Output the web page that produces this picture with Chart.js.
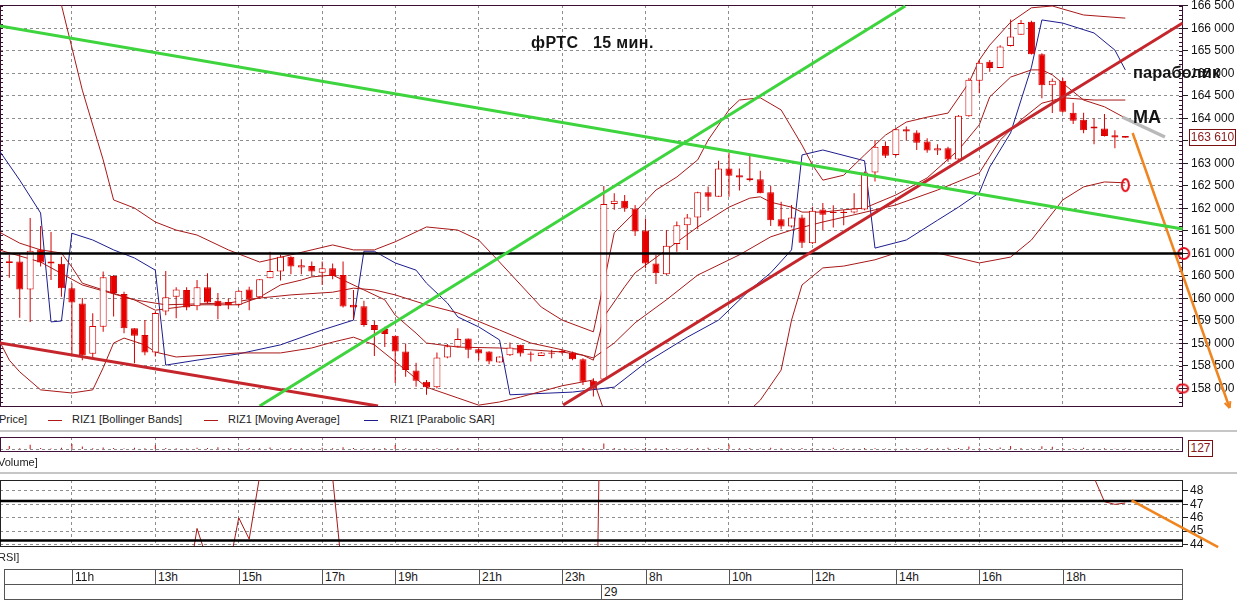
<!DOCTYPE html>
<html lang="ru">
<head>
<meta charset="utf-8">
<title>фРТС 15 мин.</title>
<script src="https://cdn.jsdelivr.net/npm/chart.js@4.4.0/dist/chart.umd.min.js"></script>
<style>
  html, body { margin: 0; padding: 0; background: #fff; }
  #board { position: relative; width: 1237px; height: 603px; overflow: hidden; font-family: "Liberation Sans", Arial, sans-serif; color: #1a1a1a; }
  #board canvas { position: absolute; left: 0; }
  .lbl { position: absolute; white-space: pre; font-size: 11px; line-height: 13px; color: #222; }
  .dash { position: absolute; height: 1px; width: 14px; }
  .note { position: absolute; white-space: pre; font-weight: bold; color: #141414; }
  .sep { position: absolute; left: 0; width: 1237px; height: 2px; background: #c6c6c6; }
  .valbox { position: absolute; border: 1px solid #7a1010; color: #8a1a1a; background: #fff; font-size: 12px; line-height: 14px; text-align: center; }
  #timeAxis { position: absolute; left: 4px; top: 569px; width: 1179px; height: 31px; border: 1px solid #555; box-sizing: border-box; }
  .tcell { position: absolute; border-left: 1px solid #555; font-size: 12px; line-height: 15px; padding-left: 2px; height: 15px; box-sizing: border-box; }
</style>
</head>
<body>
<div id="board">
  <canvas id="priceChart" width="1237" height="410" style="top:0"></canvas>
  <canvas id="volumeChart" width="1237" height="25" style="top:432px"></canvas>
  <canvas id="rsiChart" width="1237" height="80" style="top:475px"></canvas>

  <div class="note" style="left:531px;top:34px;font-size:16px;letter-spacing:0.4px;">фРТС   15 мин.</div>
  <div class="note" style="left:1133px;top:63px;font-size:16.5px;">параболик</div>
  <div class="note" style="left:1133px;top:107px;font-size:18px;">MA</div>
  <div class="valbox" style="left:1189px;top:129px;width:45px;height:15px;">163 610</div>

  <div class="lbl" style="left:-1px;top:413px;">Price]</div>
  <div class="dash" style="left:48px;top:420px;background:#b01818;"></div>
  <div class="lbl" style="left:72px;top:413px;">RIZ1 [Bollinger Bands]</div>
  <div class="dash" style="left:204px;top:420px;background:#b01818;"></div>
  <div class="lbl" style="left:228px;top:413px;">RIZ1 [Moving Average]</div>
  <div class="dash" style="left:364px;top:420px;background:#1a1a8a;"></div>
  <div class="lbl" style="left:390px;top:413px;">RIZ1 [Parabolic SAR]</div>
  <div class="sep" style="top:430px;"></div>
  <div class="valbox" style="left:1188px;top:440px;width:23px;height:15px;">127</div>
  <div class="lbl" style="left:-2px;top:456px;">Volume]</div>
  <div class="sep" style="top:472px;"></div>
  <div class="lbl" style="left:-2px;top:551px;">RSI]</div>
  <div id="timeAxis"></div>
</div>

<script>
// time scale: candle index of every hour label
const hourIdx = [6, 14, 22, 30, 37, 45, 53, 61, 69, 77, 85, 93, 101];
const hourLabels = ['11h', '13h', '15h', '17h', '19h', '21h', '23h', '8h', '10h', '12h', '14h', '16h', '18h'];
const dayIdx = 57;
const dayLabel = '29';

// 15 min candles RIZ1
const opens = [160790, 160820, 160200, 161090, 160820, 160770, 160230, 159890, 158770, 159370,
  160500, 160100, 159340, 159190, 158800, 159710, 160040, 160190, 159830, 160250,
  159950, 159920, 159860, 160200, 160030, 160450, 160600, 160930, 160690, 160720,
  160570, 160670, 160520, 159860, 159830, 159410, 159320, 159170, 158820, 158400,
  158150, 158030, 158690, 158930, 159110, 158870, 158820, 158580, 158740, 158970,
  158780, 158720, 158800, 158840, 158800, 158650, 158170, 158200, 162100, 162170,
  162000, 161510, 160780, 160540, 161210, 161630, 161800, 162360, 162260, 162890,
  162740, 162670, 162650, 162360, 161760, 161600, 161800, 161230, 161980, 161930,
  161930, 161910, 161980, 162800, 163390, 163190, 163760, 163690, 163490, 163290,
  163340, 163090, 164050, 164840, 165260, 165120, 165610, 165860, 166150, 165430,
  164740, 164840, 164130, 163970, 163820, 163780, 163630, 163570];
const highs = [160970, 161010, 161790, 161610, 161480, 160930, 160340, 160010, 159670, 160600,
  160520, 160150, 159340, 159520, 159710, 160610, 160250, 160250, 160410, 160560,
  160120, 160000, 160190, 160260, 160430, 161040, 160970, 160940, 160870, 160820,
  160820, 160780, 160820, 160190, 159950, 159510, 159370, 159170, 159000, 158570,
  158190, 158800, 158990, 159340, 159110, 158890, 158830, 158710, 159020, 158970,
  158820, 158810, 158860, 158860, 158820, 158670, 158230, 162500, 162340, 162300,
  162080, 161780, 160970, 161520, 161710, 161880, 162370, 162490, 163060, 163240,
  162890, 163170, 162840, 162500, 162150, 162080, 161860, 162040, 162120, 162070,
  161970, 162340, 162820, 163520, 163490, 163780, 163820, 163740, 163560, 163430,
  163370, 164080, 164900, 165290, 165300, 165630, 166200, 166190, 166170, 165450,
  164890, 164900, 164350, 164130, 164000, 164100, 163740, 163610];
const lows = [160460, 159570, 159480, 160710, 160410, 160040, 158710, 158630, 158670, 159260,
  159600, 159230, 158560, 158740, 158710, 159630, 159560, 159740, 159740, 159890,
  159540, 159760, 159830, 159740, 160000, 160450, 160400, 160540, 160540, 160490,
  160300, 160430, 159800, 159540, 159370, 158720, 158920, 158120, 158260, 158040,
  157860, 158000, 158670, 158910, 158670, 158630, 158540, 158580, 158720, 158710,
  158600, 158720, 158670, 158760, 158630, 158080, 157820, 158200, 161970, 161930,
  161390, 160670, 160320, 160520, 161040, 161080, 161540, 161950, 162260, 162260,
  162400, 162600, 162340, 161610, 161540, 161580, 161120, 161210, 161520, 161580,
  161630, 161890, 161960, 162600, 163120, 163160, 163510, 163300, 163240, 163190,
  163040, 163070, 164040, 164560, 165040, 165120, 165600, 165860, 165420, 164450,
  164120, 164130, 163880, 163670, 163430, 163600, 163340, 163570];
const closes = [160830, 160200, 161060, 160800, 160780, 160230, 159910, 158740, 159390, 160470,
  160120, 159340, 159170, 158800, 159680, 160030, 160200, 159800, 160250, 159910,
  159830, 159850, 160170, 159980, 160430, 160610, 160930, 160710, 160740, 160600,
  160670, 160500, 159820, 159800, 159410, 159300, 159210, 158820, 158410, 158170,
  158030, 158690, 158940, 159100, 158860, 158780, 158600, 158710, 158910, 158780,
  158750, 158800, 158770, 158800, 158650, 158150, 158000, 162100, 162170, 162000,
  161490, 160780, 160560, 161170, 161630, 161800, 162360, 162260, 162890, 162730,
  162690, 162630, 162340, 161740, 161600, 161800, 161240, 161950, 161860, 161900,
  161900, 162000, 162800, 163370, 163170, 163760, 163710, 163460, 163290, 163340,
  163090, 164060, 164860, 165240, 165120, 165600, 165820, 166120, 165430, 164740,
  164840, 164150, 163950, 163740, 163780, 163610, 163580, 163610];

// indicators: [candle index, price]
const bbUpper = [[4, 167520], [5, 166520], [7, 164630], [9, 163080], [10, 162190], [12, 162010], [14, 161700],
  [16, 161520], [18, 161410], [21, 161080], [24, 160810], [27, 160970], [31, 161190], [33, 161080], [35, 161080],
  [37, 161260], [40, 161590], [43, 161520], [45, 161300], [47, 160810], [51, 159810], [53, 159520], [56, 159260],
  [57, 160340], [58, 161460], [60, 161920], [62, 162410], [64, 162700], [66, 163080], [67, 163520], [69, 164190],
  [70, 164410], [72, 164460], [74, 164190], [76, 163410], [77, 162970], [78, 162630], [80, 162740], [82, 163190],
  [84, 163630], [86, 163920], [88, 164030], [90, 164120], [92, 164790], [93, 165300], [94, 165630], [96, 166140],
  [98, 166460], [100, 166500], [103, 166300], [107, 166230]];
const bbMiddle = [[-1, 161080], [3, 160810], [7, 160300], [12, 159970], [15, 159860], [21, 159900], [24, 160010],
  [27, 160080], [31, 160140], [33, 160230], [35, 160190], [37, 160080], [40, 159860], [43, 159680], [47, 159300],
  [50, 159010], [53, 158860], [56, 158680], [58, 159010], [60, 159460], [63, 159970], [66, 160520], [70, 160970],
  [73, 161370], [75, 161520], [78, 161700], [81, 161860], [85, 162080], [89, 162410], [93, 162790], [95, 163520],
  [97, 163970], [99, 164340], [101, 164460], [104, 164410], [107, 164410]];
const bbLower = [[-1, 159080], [0, 158630], [1, 158370], [3, 157970], [6, 157900], [8, 157970], [9, 158460],
  [10, 159010], [11, 159120], [13, 158970], [14, 158810], [16, 158700], [22, 158790], [26, 158790], [29, 158900],
  [31, 159030], [33, 159140], [35, 158970], [38, 158410], [40, 158030], [43, 157790], [45, 157630], [47, 157700],
  [49, 157810], [53, 158060], [56, 158190], [57, 157520], [58, 156860], [62, 156410], [66, 156630], [70, 157300],
  [72, 157740], [74, 158410], [75, 159520], [76, 160300], [78, 160680], [80, 160720], [83, 160860], [85, 161010],
  [89, 161010], [93, 160790], [96, 160920], [98, 161300], [101, 162190], [103, 162480], [105, 162590], [107, 162570]];
const maLine = [[-1, 161480], [1, 161230], [3, 161080], [5, 161010], [6, 160700], [7, 160340], [9, 160190],
  [12, 159970], [14, 159740], [18, 159860], [22, 159860], [24, 160030], [26, 160300], [28, 160410], [29, 160480],
  [31, 160520], [32, 160410], [34, 160190], [36, 159970], [37, 159630], [39, 159230], [40, 159010], [43, 158920],
  [47, 158900], [50, 158860], [53, 158810], [55, 158740], [56, 158630], [57, 159590], [59, 160260], [60, 160570],
  [63, 161080], [66, 161590], [69, 162030], [71, 162230], [72, 162260], [73, 162140], [75, 162030], [76, 161920],
  [78, 161920], [80, 161970], [82, 162010], [85, 162300], [88, 162680], [91, 163300], [93, 163860], [94, 164480],
  [96, 164920], [98, 165080], [99, 165080], [100, 164970], [103, 164410], [105, 164260], [107, 164010]];
const sarLine = [[-1, 163300], [1, 162630], [3, 161900], [4, 159480], [5, 159500], [6, 161450], [8, 161300],
  [10, 161080], [12, 160900], [14, 160630], [15, 158520], [18, 158630], [22, 158770], [26, 158970], [30, 159300],
  [33, 159520], [34, 161050], [35, 161050], [37, 160790], [39, 160630], [40, 160340], [42, 159900], [43, 159590],
  [45, 159370], [47, 159080], [48, 157860], [54, 157920], [58, 158030], [61, 158570], [65, 159140], [68, 159520],
  [71, 160190], [73, 160570], [75, 161080], [76, 163190], [78, 163300], [82, 163060], [83, 161120], [86, 161300],
  [89, 161740], [91, 162030], [93, 162350], [94, 162920], [96, 163680], [97, 164410], [98, 165140], [99, 166190],
  [101, 166120], [104, 165900], [106, 165520], [107, 165080]];

// hand drawn marks on the screenshot
const levelPrice = 161000;
const greenDown = [[-0.9, 166055], [112.5, 161544]];
const greenUp = [[24.0, 157611], [85.9, 166500]];
const redDown = [[-0.9, 159011], [35.35, 157611]];
const redUp = [[53.1, 157633], [112.5, 166122]];
const grayMA = [[106.7, 164033], [110.8, 163589]];
const orangeArrow = [[107.7, 163678], [117.0, 157567]];
const circleMarks = [[107.0, 162520], [112.6, 161000], [112.5, 158000]];

const priceTicks = [158000, 158500, 159000, 159500, 160000, 160500, 161000, 161500, 162000,
  162500, 163000, 163500, 164000, 164500, 165000, 165500, 166000, 166500];

const volumes = [70, 25, 95, 30, 20, 35, 110, 60, 25, 40,
  30, 20, 35, 25, 85, 30, 25, 20, 35, 30,
  45, 25, 20, 30, 25, 40, 20, 30, 25, 20,
  35, 25, 45, 30, 20, 25, 30, 90, 25, 20,
  15, 25, 20, 30, 20, 25, 15, 20, 25, 15,
  20, 15, 20, 25, 20, 30, 15, 120, 30, 25,
  20, 35, 25, 30, 20, 25, 30, 35, 25, 100,
  25, 30, 20, 35, 25, 20, 30, 25, 20, 35,
  25, 20, 30, 25, 20, 15, 25, 20, 30, 25,
  35, 30, 60, 25, 30, 40, 70, 30, 20, 65,
  55, 30, 25, 35, 20, 25, 15, 20];

const rsi = [36.5, 33.0, 39.5, 37.0, 36.0, 32.0, 27.5, 24.0, 29.5, 36.0,
  34.0, 30.0, 28.5, 26.0, 33.5, 37.5, 39.5, 40.4, 45.2, 42.8,
  38.5, 42.0, 46.0, 44.4, 49.1, 56.0, 60.5, 57.0, 57.5, 55.0,
  56.5, 49.0, 41.3, 38.0, 33.5, 31.0, 29.5, 24.0, 21.5, 19.5,
  18.5, 28.0, 32.0, 35.0, 31.5, 31.0, 28.5, 33.5, 36.5, 33.5,
  33.0, 34.5, 34.0, 35.0, 31.5, 23.5, 21.0, 74.0, 74.5, 72.0,
  66.0, 58.5, 55.0, 61.0, 64.5, 66.0, 69.5, 68.0, 71.5, 70.0,
  69.0, 68.5, 65.5, 58.0, 56.0, 58.0, 53.5, 58.0, 57.5, 57.5,
  57.5, 58.0, 63.5, 68.0, 65.5, 68.5, 68.0, 66.0, 64.5, 64.5,
  63.5, 70.5, 75.0, 77.0, 75.5, 77.5, 78.5, 80.0, 67.5, 59.0,
  59.5, 54.0, 51.5, 50.0, 49.0, 47.2, 47.0, 47.1];
const rsiLevels = [47.25, 44.3];
const rsiTicks = [44, 45, 46, 47, 48];
const rsiArrow = [[107.6, 47.3], [115.9, 43.8]];

const X_MIN = -0.892, X_MAX = 112.53;

Chart.defaults.font.family = '"Liberation Sans", Arial, sans-serif';
Chart.defaults.font.size = 12;
Chart.defaults.color = '#111';

const pts = arr => arr.map(p => ({ x: p[0], y: p[1] }));
const fmtPrice = v => String(v).replace(/\B(?=(\d{3})+(?!\d))/g, ' ');

function ring(w, h) {
    const c = document.createElement('canvas');
    c.width = w + 4;
    c.height = h + 4;
    const g = c.getContext('2d');
    g.strokeStyle = '#e4101c';
    g.lineWidth = 2;
    g.beginPath();
    g.ellipse(c.width / 2, c.height / 2, w / 2, h / 2, 0, 0, Math.PI * 2);
    g.stroke();
    return c;
}

// frame of the panel + minor ticks of the price scale
const framePlugin = {
    id: 'frame',
    beforeDatasetsDraw(chart, args, opts) {
        const { ctx, chartArea: a } = chart;
        ctx.save();
        ctx.strokeStyle = opts.color || '#3a1030';
        ctx.lineWidth = 1;
        ctx.strokeRect(a.left + 0.5, a.top + 0.5, a.right - a.left - 1, a.bottom - a.top);
        if (opts.minorStep) {
            const y = chart.scales.y;
            ctx.beginPath();
            for (let v = Math.ceil(y.min / opts.minorStep) * opts.minorStep; v <= y.max; v += opts.minorStep) {
                const py = Math.round(y.getPixelForValue(v)) + 0.5;
                ctx.moveTo(a.right - 4, py);
                ctx.lineTo(a.right, py);
                ctx.moveTo(a.left, py);
                ctx.lineTo(a.left + 3, py);
            }
            ctx.stroke();
        }
        ctx.restore();
    },
    afterDatasetsDraw(chart) {
        // arrow heads on hand drawn lines
        chart.data.datasets.forEach((ds, i) => {
            if (!ds.arrow) return;
            const d = chart.getDatasetMeta(i).data;
            const p1 = d[d.length - 2], p2 = d[d.length - 1];
            const ang = Math.atan2(p2.y - p1.y, p2.x - p1.x);
            const ctx = chart.ctx;
            ctx.save();
            ctx.strokeStyle = ds.borderColor;
            ctx.lineWidth = 2;
            ctx.beginPath();
            [-0.45, 0.45].forEach(off => {
                ctx.moveTo(p2.x, p2.y);
                ctx.lineTo(p2.x - 7 * Math.cos(ang + off), p2.y - 7 * Math.sin(ang + off));
            });
            ctx.stroke();
            ctx.restore();
        });
    }
};

// keep the plot box exactly where the padding puts it
const noLabelPad = s => { s.width = 54; s.paddingTop = 0; s.paddingBottom = 0; };

function timeAxis() {
    return {
        type: 'linear', min: X_MIN, max: X_MAX, offset: false,
        afterBuildTicks: s => { s.ticks = hourIdx.map(v => ({ value: v })); },
        afterFit: s => { s.height = 0; s.paddingLeft = 0; s.paddingRight = 0; },
        ticks: { display: false },
        grid: { color: '#8e8e8e', drawTicks: false, offset: false },
        border: { display: false, dash: [3, 3] }
    };
}

function lineSet(data, color, width, order, extra) {
    return Object.assign({
        type: 'line', data: pts(data), borderColor: color, borderWidth: width,
        pointRadius: 0, tension: 0, order: order
    }, extra || {});
}

const idx = closes.map((_, i) => i);

const priceChart = new Chart(document.getElementById('priceChart'), {
    type: 'bar',
    data: {
        datasets: [
            lineSet(greenDown, '#3ed43e', 3, 0),
            lineSet(greenUp, '#3ed43e', 3, 0),
            lineSet(redDown, '#c4262c', 3, 0),
            lineSet(redUp, '#c4262c', 3, 0),
            lineSet([[X_MIN, levelPrice], [X_MAX, levelPrice]], '#000000', 2.5, 0),
            lineSet(grayMA, '#b9b9b9', 3.5, 0, { clip: false }),
            lineSet(orangeArrow, '#f0841f', 2.5, 0, { clip: false, arrow: true }),
            {
                type: 'line', data: pts(circleMarks), showLine: false, order: 0, clip: false,
                pointStyle: [ring(7, 12), ring(11, 11), ring(11, 8)], pointRadius: 6
            },
            {
                label: 'body', data: idx.map(i => ({ x: i, y: [opens[i], closes[i]] })),
                backgroundColor: idx.map(i => closes[i] >= opens[i] ? '#ffffff' : '#e60000'),
                borderColor: '#d40000', borderWidth: 1, borderSkipped: false,
                barThickness: 7, grouped: false, inflateAmount: 0, order: 1
            },
            {
                label: 'wick', data: idx.map(i => ({ x: i, y: [lows[i], highs[i]] })),
                backgroundColor: '#d40000', borderWidth: 0, barThickness: 1,
                grouped: false, inflateAmount: 0, order: 2
            },
            lineSet(bbUpper, '#a81818', 1, 3),
            lineSet(bbMiddle, '#a81818', 1, 3),
            lineSet(bbLower, '#a81818', 1, 3),
            lineSet(maLine, '#a81818', 1, 3),
            lineSet(sarLine, '#1c1c8e', 1, 3)
        ]
    },
    options: {
        responsive: false, animation: false, devicePixelRatio: 1,
        layout: { autoPadding: false, padding: { top: 5, bottom: 4, left: 0, right: 0 } },
        plugins: { legend: { display: false }, tooltip: { enabled: false }, frame: { minorStep: 100 } },
        scales: {
            x: timeAxis(),
            y: {
                position: 'right', min: 157611, max: 166522,
                afterBuildTicks: s => { s.ticks = priceTicks.map(v => ({ value: v })); },
                afterFit: noLabelPad,
                ticks: { callback: v => fmtPrice(v), autoSkip: false, padding: 3, color: '#111' },
                grid: { color: '#8e8e8e', tickLength: 5, tickColor: '#222', tickBorderDash: [] },
                border: { display: false, dash: [3, 3] }
            }
        }
    },
    plugins: [framePlugin]
});

new Chart(document.getElementById('volumeChart'), {
    type: 'bar',
    data: {
        datasets: [{
            data: idx.map(i => ({ x: i, y: volumes[i] })),
            backgroundColor: '#c81010', barThickness: 1, inflateAmount: 0
        }]
    },
    options: {
        responsive: false, animation: false, devicePixelRatio: 1,
        layout: { autoPadding: false, padding: { top: 5, bottom: 6, left: 0, right: 0 } },
        plugins: { legend: { display: false }, tooltip: { enabled: false }, frame: { color: '#401038' } },
        scales: {
            x: timeAxis(),
            y: {
                position: 'right', min: -30, max: 250,
                afterBuildTicks: s => { s.ticks = [{ value: 0 }]; },
                afterFit: noLabelPad,
                ticks: { display: false },
                grid: { color: '#8e8e8e', drawTicks: false },
                border: { display: false, dash: [3, 3] }
            }
        }
    },
    plugins: [framePlugin]
});

new Chart(document.getElementById('rsiChart'), {
    type: 'line',
    data: {
        datasets: [
            lineSet(rsiArrow, '#f0841f', 2.5, 0, { clip: false }),
            lineSet([[X_MIN, rsiLevels[0]], [X_MAX, rsiLevels[0]]], '#000000', 2.5, 1),
            lineSet([[X_MIN, rsiLevels[1]], [X_MAX, rsiLevels[1]]], '#000000', 2.5, 1),
            lineSet(idx.map(i => [i, rsi[i]]), '#a81818', 1, 2)
        ]
    },
    options: {
        responsive: false, animation: false, devicePixelRatio: 1,
        layout: { autoPadding: false, padding: { top: 5, bottom: 9, left: 0, right: 0 } },
        plugins: { legend: { display: false }, tooltip: { enabled: false }, frame: { color: '#222' } },
        scales: {
            x: timeAxis(),
            y: {
                position: 'right', min: 43.89, max: 48.82,
                afterBuildTicks: s => { s.ticks = rsiTicks.map(v => ({ value: v })); },
                afterFit: noLabelPad,
                ticks: { autoSkip: false, padding: 2, color: '#111' },
                grid: { color: '#8e8e8e', tickLength: 5, tickColor: '#222', tickBorderDash: [] },
                border: { display: false, dash: [3, 3] }
            }
        }
    },
    plugins: [framePlugin]
});

// time axis boxes placed with the price chart x scale
const axisBox = document.getElementById('timeAxis');
const xs = priceChart.scales.x;
const row2 = document.createElement('div');
row2.style.cssText = 'position:absolute;left:0;right:0;top:14px;height:1px;background:#555;';
axisBox.appendChild(row2);
hourIdx.forEach((h, k) => {
    const cell = document.createElement('div');
    cell.className = 'tcell';
    cell.style.left = (Math.round(xs.getPixelForValue(h)) - 5) + 'px';
    cell.style.top = '0px';
    cell.textContent = hourLabels[k];
    axisBox.appendChild(cell);
});
const day = document.createElement('div');
day.className = 'tcell';
day.style.left = (Math.round(xs.getPixelForValue(dayIdx)) - 8) + 'px';
day.style.top = '15px';
day.textContent = dayLabel;
axisBox.appendChild(day);
</script>
</body>
</html>
